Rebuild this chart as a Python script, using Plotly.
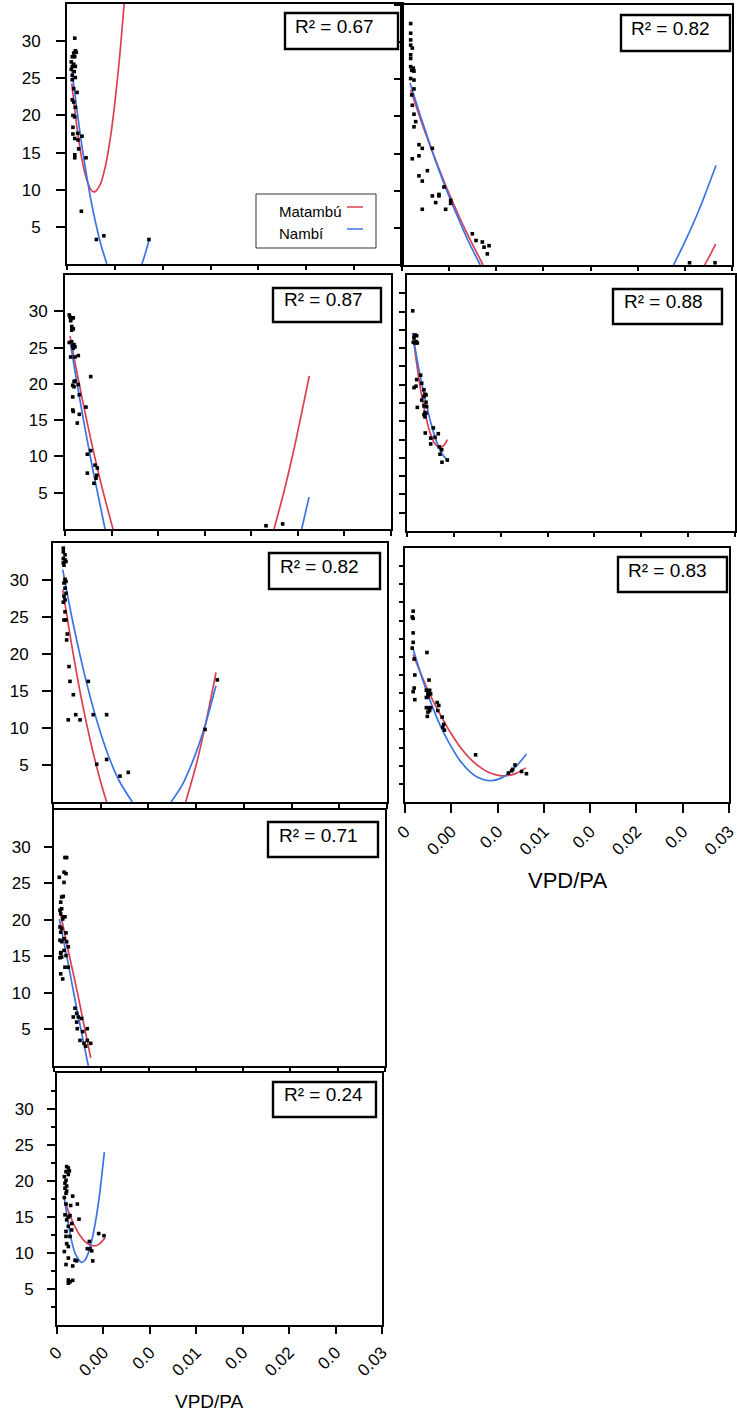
import plotly.graph_objects as go

FIG_W, FIG_H = 737, 1412
RED = "#dc3f52"
BLUE = "#3b73e6"
FONT = "Liberation Sans, Arial, sans-serif"

# ---------------------------------------------------------------- data ----
x_tickvals = [0, 0.005, 0.010, 0.015, 0.020, 0.025, 0.030, 0.035]
x_ticktext = ["0", "0.00", "0.0", "0.01", "0.0", "0.02", "0.0", "0.03"]
y_tickvals = [5, 10, 15, 20, 25, 30]
y_minorvals = [2.5, 7.5, 12.5, 17.5, 22.5, 27.5, 32.5]
y_halfvals = [2.5, 5, 7.5, 10, 12.5, 15, 17.5, 20, 22.5, 25, 27.5, 30, 32.5]
r2_values = [0.67, 0.82, 0.87, 0.88, 0.82, 0.83, 0.71, 0.24]
series_names = ["Matambú", "Nambí"]

# panel 1
pts1_x = [0.00081, 0.00087, 0.0007, 0.00097, 0.00055, 0.00081, 0.00045, 0.0007, 0.00055, 0.00087,
          0.00045, 0.00075, 0.00055, 0.00087, 0.00055, 0.00105, 0.0007, 0.00055, 0.0007, 0.00087,
          0.00062, 0.00081, 0.00062, 0.00062, 0.00112, 0.00157, 0.00081, 0.00115, 0.00122, 0.00081,
          0.00081, 0.00199, 0.0015, 0.00307, 0.00385, 0.00856]
pts1_y = [30.4, 28.7, 28.4, 28.5, 27.9, 27.9, 27.2, 26.9, 26.6, 26.6,
          26.2, 25.9, 25.4, 25.1, 24.8, 23.1, 23.6, 22.1, 21.8, 21.1,
          20.0, 19.8, 18.4, 17.5, 17.6, 17.2, 16.9, 16.7, 15.5, 14.7,
          14.3, 14.3, 7.1, 3.3, 3.8, 3.3]
mat1_x = [0.0005, 0.001, 0.0015, 0.002, 0.0025, 0.00286, 0.0035, 0.004, 0.0045, 0.005, 0.0055, 0.00597]
mat1_y = [24.3, 18.8, 14.5, 11.6, 10.0, 9.7, 10.8, 13.1, 16.7, 21.7, 27.9, 35.0]
nam1_x = [0.0005, 0.001, 0.0015, 0.002, 0.0025, 0.003, 0.0035, 0.00416, None, 0.00783, 0.0082, 0.00859]
nam1_y = [26.2, 21.1, 16.4, 12.3, 8.6, 5.5, 2.8, 0.0, None, 0.0, 1.5, 3.3]

# panel 2
pts2_x = [0.00092, 0.00092, 0.00092, 0.00092, 0.00109, 0.00092, 0.00092, 0.00092, 0.0012, 0.00127,
          0.00103, 0.00092, 0.00127, 0.00127, 0.00103, 0.00109, 0.00127, 0.00145, 0.00127, 0.0018,
          0.00215, 0.00322, 0.0018, 0.00109, 0.0018, 0.00215, 0.00269, 0.00322, 0.00357, 0.00392,
          0.00392, 0.00445, 0.00516, 0.00516, 0.00463, 0.00215, 0.00746, 0.00785, 0.00852, 0.0087,
          0.00923, 0.00905, 0.0305, 0.0332]
pts2_y = [32.5, 31.2, 30.3, 29.6, 29.2, 28.3, 27.8, 26.7, 26.5, 26.1,
          26.2, 25.1, 24.9, 23.7, 22.9, 21.5, 20.3, 19.3, 18.6, 16.2,
          15.7, 15.7, 14.7, 14.3, 12.0, 11.3, 12.7, 9.3, 8.4, 9.5,
          9.3, 10.5, 8.7, 8.3, 7.5, 7.5, 4.2, 3.3, 3.1, 2.4,
          2.6, 1.5, 0.3, 0.3]
mat2_x = [0.00091, 0.002, 0.003, 0.004, 0.005, 0.006, 0.007, 0.0086, None, 0.0321, 0.0327, 0.03327]
mat2_y = [23.6, 19.5, 16.0, 12.7, 9.6, 6.7, 4.0, 0.0, None, 0.0, 1.4, 2.8]
nam2_x = [0.00085, 0.002, 0.003, 0.004, 0.005, 0.006, 0.007, 0.0083, None, 0.0288, 0.030, 0.0315, 0.0333]
nam2_y = [24.5, 19.9, 16.1, 12.5, 9.2, 6.2, 3.3, 0.0, None, 0.0, 3.1, 7.4, 13.4]

# panel 3
pts3_x = [0.00046, 0.00072, 0.00089, 0.00054, 0.00061, 0.00072, 0.00083, 0.00072, 0.00089, 0.00046,
          0.00072, 0.00097, 0.00107, 0.00089, 0.00083, 0.00061, 0.00107, 0.00143, 0.00276, 0.00097,
          0.00107, 0.00083, 0.00097, 0.00143, 0.00083, 0.00154, 0.00225, 0.00083, 0.00089, 0.00154,
          0.00132, 0.00276, 0.0024, 0.0024, 0.00322, 0.00347, 0.0034, 0.00333, 0.00311, 0.02158,
          0.02337]
pts3_y = [29.5, 29.0, 29.1, 29.2, 28.7, 27.9, 27.6, 27.4, 27.6, 25.7,
          25.8, 25.4, 25.1, 24.9, 25.2, 23.7, 23.7, 23.9, 21.0, 20.3,
          20.4, 19.8, 19.6, 19.9, 18.2, 18.5, 16.8, 16.4, 16.2, 15.8,
          14.6, 10.8, 10.3, 7.7, 8.8, 8.4, 7.4, 7.0, 6.3, 0.45,
          0.7]
mat3_x = [0.00054, 0.001, 0.002, 0.003, 0.004, 0.00515, None, 0.02244, 0.0235, 0.0245, 0.02623]
mat3_y = [26.6, 23.4, 17.0, 11.0, 5.6, 0.0, None, 0.0, 5.1, 10.5, 21.1]
nam3_x = [0.00054, 0.001, 0.002, 0.003, 0.0043, None, 0.02541, 0.0262]
nam3_y = [25.9, 22.3, 14.9, 8.1, 0.0, None, 0.0, 4.4]

# panel 4
pts4_x = [0.00061, 0.00085, 0.00103, 0.00075, 0.00096, 0.00085, 0.0011, 0.00067, 0.00146, 0.00103,
          0.00096, 0.00075, 0.00157, 0.00181, 0.00192, 0.00181, 0.00203, 0.00157, 0.00203, 0.00181,
          0.0021, 0.0011, 0.00181, 0.00203, 0.00192, 0.00192, 0.00195, 0.00281, 0.00253, 0.00299,
          0.00334, 0.00253, 0.00345, 0.00352, 0.0037, 0.00373, 0.0043]
pts4_y = [30.1, 26.8, 26.7, 26.4, 25.9, 25.7, 25.7, 25.8, 21.3, 20.7,
          19.8, 19.6, 20.2, 19.3, 18.7, 18.4, 18.6, 17.9, 17.6, 17.1,
          17.0, 16.9, 15.9, 16.1, 15.6, 16.2, 13.4, 14.1, 12.7, 12.8,
          13.3, 11.9, 11.5, 10.5, 11.1, 9.4, 9.7]
mat4_x = [0.00061, 0.001, 0.0015, 0.002, 0.0025, 0.003, 0.00352, 0.004, 0.0043]
mat4_y = [27.1, 23.2, 19.0, 15.7, 13.3, 11.9, 11.4, 11.8, 12.5]
nam4_x = [0.00061, 0.001, 0.0015, 0.002, 0.0025, 0.003, 0.0035, 0.004, 0.00441]
nam4_y = [27.0, 24.0, 20.6, 17.7, 15.0, 12.8, 11.1, 10.1, 9.6]

# panel 5
pts5_x = [0.00108, 0.00108, 0.00126, 0.00108, 0.00126, 0.00108, 0.00136, 0.00115, 0.00126, 0.00136,
          0.00115, 0.00126, 0.00136, 0.00115, 0.00126, 0.00108, 0.00126, 0.00115, 0.00136, 0.0015,
          0.00143, 0.00168, 0.00178, 0.0037, 0.00213, 0.0016, 0.00238, 0.00283, 0.00422, 0.00562,
          0.00458, 0.00562, 0.00702, 0.00789, 0.01593, 0.01722]
pts5_y = [34.3, 33.8, 33.4, 32.9, 32.7, 32.3, 32.5, 32.0, 30.1, 29.8,
          29.6, 28.9, 28.2, 27.8, 27.3, 27.0, 25.7, 24.6, 24.6, 22.7,
          21.9, 18.3, 16.3, 16.3, 14.5, 11.1, 11.8, 11.1, 11.8, 11.8,
          5.1, 5.75, 3.5, 4.0, 9.8, 16.5]
mat5_x = [0.00102, 0.002, 0.003, 0.004, 0.005, 0.00562, None, 0.0139, 0.015, 0.016, 0.01708]
mat5_y = [28.7, 20.9, 13.8, 7.8, 2.7, 0.0, None, 0.0, 5.0, 10.6, 17.5]
nam5_x = [0.00102, 0.002, 0.003, 0.004, 0.005, 0.006, 0.007, 0.00831, None,
          0.01237, 0.0135, 0.015, 0.016, 0.01708]
nam5_y = [31.4, 24.8, 18.9, 13.7, 9.3, 5.6, 2.7, 0.0, None,
          0.0, 2.2, 6.7, 10.6, 15.7]

# panel 6
pts6_x = [0.00088, 0.00088, 0.00078, 0.00088, 0.00088, 0.00078, 0.00099, 0.00106, 0.00088, 0.00099,
          0.00106, 0.00237, 0.00259, 0.00231, 0.00266, 0.00248, 0.00277, 0.00231, 0.00248, 0.00231,
          0.00255, 0.00277, 0.00248, 0.00266, 0.00241, 0.00348, 0.00365, 0.00354, 0.00401, 0.00418,
          0.00408, 0.00426, 0.00763, 0.01117, 0.01163, 0.01188, 0.01259, 0.01312, 0.01152]
pts6_y = [26.3, 25.3, 25.5, 23.3, 22.0, 21.2, 19.7, 17.5, 15.2, 15.7,
          14.1, 20.6, 16.8, 15.4, 15.4, 14.9, 14.9, 14.4, 14.5, 13.0,
          13.0, 13.0, 12.4, 12.6, 11.8, 13.7, 13.3, 12.6, 11.7, 10.7,
          10.3, 9.9, 6.5, 4.0, 4.5, 5.1, 4.2, 3.9, 4.3]
mat6_x = [0.00088, 0.002, 0.003, 0.004, 0.005, 0.006, 0.007, 0.008, 0.009, 0.0106, 0.012, 0.01305]
mat6_y = [20.3, 16.8, 14.0, 11.6, 9.4, 7.5, 6.0, 4.9, 4.1, 3.6, 3.95, 4.7]
nam6_x = [0.00078, 0.002, 0.003, 0.004, 0.005, 0.006, 0.007, 0.008, 0.00922, 0.0105, 0.012, 0.01312]
nam6_y = [21.5, 16.5, 13.0, 10.0, 7.6, 5.6, 4.2, 3.3, 2.93, 3.36, 4.9, 6.6]

# panel 7
pts7_x = [0.00116, 0.00134, 0.00056, 0.00106, 0.00127, 0.00106, 0.00098, 0.00081, 0.00071, 0.00063,
          0.00081, 0.00071, 0.00098, 0.00116, 0.00092, 0.00063, 0.00081, 0.00071, 0.00127, 0.00106,
          0.00063, 0.00081, 0.00134, 0.00151, 0.00106, 0.00071, 0.00081, 0.00127, 0.00071, 0.00063,
          0.00116, 0.00151, 0.00071, 0.00092, 0.00222, 0.0024, 0.00204, 0.00257, 0.00292, 0.0024,
          0.00246, 0.00303, 0.00352, 0.00275, 0.00317, 0.00352, 0.00388, 0.00335]
pts7_y = [28.5, 28.5, 25.8, 26.5, 26.3, 25.1, 23.2, 23.1, 22.4, 21.3,
          21.5, 20.8, 20.4, 20.4, 20.1, 19.0, 18.8, 18.3, 18.2, 17.4,
          17.2, 17.0, 17.0, 16.3, 15.8, 15.4, 14.9, 15.1, 15.5, 14.8,
          13.5, 13.5, 12.6, 11.9, 7.9, 7.2, 6.7, 6.7, 6.5, 6.0,
          5.1, 4.7, 5.1, 3.5, 3.1, 3.5, 3.1, 2.7]
mat7_x = [0.00056, 0.0015, 0.0025, 0.00388]
mat7_y = [21.6, 15.8, 9.9, 1.1]
nam7_x = [0.00056, 0.0015, 0.0025, 0.00363]
nam7_y = [20.1, 14.0, 7.2, 0.0]

# panel 8
pts8_x = [0.00104, 0.00122, 0.00133, 0.00097, 0.00122, 0.00079, 0.00097, 0.00086, 0.00104, 0.00086,
          0.00104, 0.00097, 0.00169, 0.00219, 0.00079, 0.00097, 0.00147, 0.00086, 0.00122, 0.0014,
          0.00104, 0.00237, 0.00158, 0.00122, 0.00097, 0.00158, 0.0014, 0.00097, 0.00104, 0.00122,
          0.00079, 0.00122, 0.00097, 0.00169, 0.00194, 0.00212, 0.00122, 0.0014, 0.00169, 0.00122,
          0.00327, 0.00356, 0.00348, 0.00374, 0.00385, 0.00449, 0.00506]
pts8_y = [22.0, 21.8, 21.4, 21.3, 20.9, 20.6, 20.1, 19.7, 19.3, 19.0,
          18.6, 18.3, 17.9, 16.8, 17.7, 16.8, 16.6, 15.3, 15.0, 15.2,
          14.6, 14.7, 14.1, 13.7, 13.0, 13.2, 12.3, 12.3, 11.3, 10.9,
          10.2, 9.3, 8.4, 8.2, 9.0, 8.9, 6.25, 6.0, 6.2, 5.8,
          10.6, 10.6, 11.6, 10.3, 8.9, 12.7, 12.4]
mat8_x = [0.00086, 0.0015, 0.002, 0.0025, 0.003, 0.0035, 0.00399, 0.0045, 0.00517]
mat8_y = [17.1, 14.9, 13.5, 12.4, 11.6, 11.15, 11.0, 11.2, 12.1]
nam8_x = [0.00078, 0.0015, 0.002, 0.00266, 0.003, 0.0035, 0.004, 0.0045, 0.0051]
nam8_y = [17.7, 12.1, 9.8, 8.7, 9.0, 10.5, 13.3, 17.3, 24.0]

points = [(pts1_x, pts1_y), (pts2_x, pts2_y), (pts3_x, pts3_y), (pts4_x, pts4_y),
          (pts5_x, pts5_y), (pts6_x, pts6_y), (pts7_x, pts7_y), (pts8_x, pts8_y)]
mat_curves = [(mat1_x, mat1_y), (mat2_x, mat2_y), (mat3_x, mat3_y), (mat4_x, mat4_y),
              (mat5_x, mat5_y), (mat6_x, mat6_y), (mat7_x, mat7_y), (mat8_x, mat8_y)]
nam_curves = [(nam1_x, nam1_y), (nam2_x, nam2_y), (nam3_x, nam3_y), (nam4_x, nam4_y),
              (nam5_x, nam5_y), (nam6_x, nam6_y), (nam7_x, nam7_y), (nam8_x, nam8_y)]

# -------------------------------------------------------------- layout ----
def fx(px):
    return px / FIG_W


def fy(py):
    return 1 - py / FIG_H


# plot-area boxes in pixels (left, top, right, bottom) and per-panel axis style
panels = [
    dict(box=(67, 4, 402, 264), ylab=True, yticks="major", ylen=9, ystand=12, xlab=False, xlen=4,
         r2box=(285, 13, 398, 49), r2text=(293, 27)),
    dict(box=(402, 5, 732, 265), ylab=False, yticks="major35", ylen=6, ystand=0, xlab=False, xlen=4,
         r2box=(621, 15, 730, 51), r2text=(629, 28)),
    dict(box=(65, 275, 391, 529), ylab=True, yticks="major", ylen=9, ystand=3, xlab=False, xlen=5,
         r2box=(273, 288, 381, 322), r2text=(282, 300)),
    dict(box=(407, 275, 735, 531), ylab=False, yticks="half", ylen=6, ystand=0, xlab=False, xlen=4,
         r2box=(613, 289, 722, 324), r2text=(622, 301)),
    dict(box=(53, 543, 387, 802), ylab=True, yticks="major", ylen=9, ystand=10, xlab=False, xlen=5,
         r2box=(269, 553, 380, 589), r2text=(278, 566)),
    dict(box=(405, 548, 729, 802), ylab=False, yticks="half", ylen=4, ystand=0, xlab=True, xlen=9,
         r2box=(618, 557, 727, 592), r2text=(626, 570)),
    dict(box=(54, 810, 385, 1066), ylab=True, yticks="major", ylen=8, ystand=10, xlab=False, xlen=4,
         r2box=(268, 822, 378, 857), r2text=(277, 835)),
    dict(box=(57, 1073, 382, 1325), ylab=True, yticks="minor", ylen=8, ystand=10, xlab=True, xlen=7,
         r2box=(273, 1082, 376, 1117), r2text=(282, 1094)),
]

fig = go.Figure()
layout = dict(
    width=FIG_W, height=FIG_H,
    margin=dict(l=0, r=0, t=0, b=0),
    paper_bgcolor="white", plot_bgcolor="white",
    template="none", showlegend=False,
    font=dict(family=FONT, color="black", size=17),
)
shapes = []
annotations = []

for i, p in enumerate(panels):
    n = i + 1
    xs = "x" if n == 1 else f"x{n}"
    ys = "y" if n == 1 else f"y{n}"
    xkey = "xaxis" if n == 1 else f"xaxis{n}"
    ykey = "yaxis" if n == 1 else f"yaxis{n}"
    left, top, right, bottom = p["box"]

    layout[xkey] = dict(
        domain=[fx(left), fx(right)], anchor=ys, range=[0, 0.035],
        showline=True, linecolor="black", linewidth=2, mirror=True,
        showgrid=False, zeroline=False,
        tickmode="array", tickvals=x_tickvals, ticktext=x_ticktext,
        ticks="outside", ticklen=p["xlen"], tickwidth=1.5, tickcolor="black",
        showticklabels=p["xlab"], tickangle=-45, ticklabeloverflow="allow",
        ticklabelstandoff=2,
        tickfont=dict(family=FONT, size=17, color="black"),
        automargin=False,
    )
    if p["yticks"] == "half":
        yvals = y_halfvals
    elif p["yticks"] == "major35":
        yvals = y_tickvals + [35]
    else:
        yvals = y_tickvals
    ydict = dict(
        domain=[fy(bottom), fy(top)], anchor=xs, range=[0, 35],
        showline=True, linecolor="black", linewidth=2, mirror=True,
        showgrid=False, zeroline=False,
        tickmode="array", tickvals=yvals, ticktext=[f"{v:g}" for v in yvals],
        ticks="outside", ticklen=p["ylen"], tickwidth=1.5, tickcolor="black",
        showticklabels=p["ylab"], ticklabelstandoff=p["ystand"],
        tickfont=dict(family=FONT, size=17, color="black"),
        automargin=False,
    )
    if p["yticks"] == "minor":
        ydict["minor"] = dict(tickmode="array", tickvals=y_minorvals, ticks="outside",
                              ticklen=4, tickwidth=1.5, tickcolor="black", showgrid=False)
    layout[ykey] = ydict

    mx, my = mat_curves[i]
    nx, ny = nam_curves[i]
    fig.add_trace(go.Scatter(x=mx, y=my, mode="lines", name=series_names[0],
                             line=dict(color=RED, width=1.7, shape="spline", smoothing=0.8),
                             xaxis=xs, yaxis=ys, hoverinfo="skip"))
    fig.add_trace(go.Scatter(x=nx, y=ny, mode="lines", name=series_names[1],
                             line=dict(color=BLUE, width=1.7, shape="spline", smoothing=0.8),
                             xaxis=xs, yaxis=ys, hoverinfo="skip"))
    px_, py_ = points[i]
    fig.add_trace(go.Scatter(x=px_, y=py_, mode="markers",
                             marker=dict(symbol="square", size=3.6, color="black", line=dict(width=0)),
                             xaxis=xs, yaxis=ys, hoverinfo="skip", cliponaxis=False))

    # R² box
    bx0, by0, bx1, by1 = p["r2box"]
    shapes.append(dict(type="rect", xref="paper", yref="paper",
                       x0=fx(bx0), x1=fx(bx1), y0=fy(by1), y1=fy(by0),
                       line=dict(color="black", width=2.4), fillcolor="white", layer="above"))
    tx, ty = p["r2text"]
    annotations.append(dict(xref="paper", yref="paper", x=fx(tx), y=fy(ty),
                            xanchor="left", yanchor="middle", showarrow=False,
                            text=f"R² = {r2_values[i]:.2f}",
                            font=dict(family=FONT, size=19, color="black")))

# legend drawn inside the first panel, with the line sample after the name
shapes.append(dict(type="rect", xref="paper", yref="paper",
                   x0=fx(256), x1=fx(376), y0=fy(248), y1=fy(194),
                   line=dict(color="#333333", width=1), fillcolor="white", layer="above"))
for name, color, ty in [(series_names[0], RED, 211), (series_names[1], BLUE, 233)]:
    annotations.append(dict(xref="paper", yref="paper", x=fx(277), y=fy(ty),
                            xanchor="left", yanchor="middle", showarrow=False, text=name,
                            font=dict(family=FONT, size=15, color="black")))
    shapes.append(dict(type="line", xref="paper", yref="paper",
                       x0=fx(347), x1=fx(363), y0=fy(ty - 4), y1=fy(ty - 4),
                       line=dict(color=color, width=1.5), layer="above"))

# x-axis titles under the two labelled panels
for cx, cy, size in [(567, 880, 22), (210, 1401, 19)]:
    annotations.append(dict(xref="paper", yref="paper", x=fx(cx), y=fy(cy),
                            xanchor="center", yanchor="middle", showarrow=False, text="VPD/PA",
                            font=dict(family=FONT, size=size, color="black")))

layout["shapes"] = shapes
layout["annotations"] = annotations
fig.update_layout(**layout)

fig.write_html("out.html")
